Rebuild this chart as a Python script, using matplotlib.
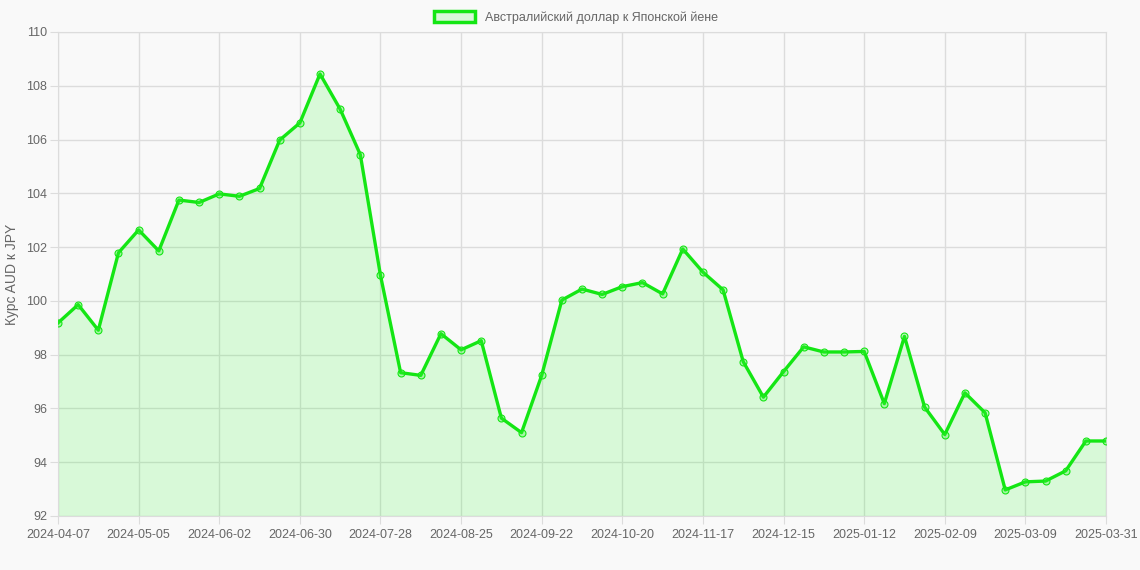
import matplotlib
matplotlib.use('Agg')
import matplotlib.pyplot as plt
from matplotlib.patches import Patch

# недельные даты (последняя точка - 2025-03-31)
dates = ['2024-04-07', '2024-04-14', '2024-04-21', '2024-04-28', '2024-05-05',
         '2024-05-12', '2024-05-19', '2024-05-26', '2024-06-02', '2024-06-09',
         '2024-06-16', '2024-06-23', '2024-06-30', '2024-07-07', '2024-07-14',
         '2024-07-21', '2024-07-28', '2024-08-04', '2024-08-11', '2024-08-18',
         '2024-08-25', '2024-09-01', '2024-09-08', '2024-09-15', '2024-09-22',
         '2024-09-29', '2024-10-06', '2024-10-13', '2024-10-20', '2024-10-27',
         '2024-11-03', '2024-11-10', '2024-11-17', '2024-11-24', '2024-12-01',
         '2024-12-08', '2024-12-15', '2024-12-22', '2024-12-29', '2025-01-05',
         '2025-01-12', '2025-01-19', '2025-01-26', '2025-02-02', '2025-02-09',
         '2025-02-16', '2025-02-23', '2025-03-02', '2025-03-09', '2025-03-16',
         '2025-03-23', '2025-03-30', '2025-03-31']

rates = [99.18, 99.86, 98.91, 101.79, 102.64, 101.86, 103.75, 103.66, 103.98, 103.89,
         104.18, 105.98, 106.62, 108.44, 107.13, 105.44, 100.95, 97.33, 97.23, 98.78,
         98.18, 98.52, 95.64, 95.10, 97.23, 100.03, 100.44, 100.24, 100.53, 100.68,
         100.26, 101.93, 101.07, 100.41, 97.74, 96.42, 97.37, 98.29, 98.10, 98.10,
         98.12, 96.18, 98.68, 96.05, 95.03, 96.58, 95.84, 92.97, 93.27, 93.30,
         93.68, 94.79, 94.79]

tick_idx = [0, 4, 8, 12, 16, 20, 24, 28, 32, 36, 40, 44, 48, 52]
yticks = [92, 94, 96, 98, 100, 102, 104, 106, 108, 110]

label = 'Австралийский доллар к Японской йене'
green = '#14e614'
bg = '#f9f9f9'
txt = '#666666'

plt.rcParams['font.family'] = ['Liberation Sans', 'DejaVu Sans']

fig = plt.figure(figsize=(11.4, 5.7), dpi=100, facecolor=bg)
ax = fig.add_axes([58 / 1140, 1 - 516 / 570, (1106 - 58) / 1140, (516 - 32) / 570])
ax.set_facecolor(bg)

x = list(range(len(dates)))
ax.fill_between(x, rates, 92, color=(0, 1, 0), alpha=0.13, linewidth=0, zorder=2)
ax.plot(x, rates, color=green, linewidth=2.4, zorder=3,
        marker='o', markersize=5, markerfacecolor=(0.2, 0.95, 0.2, 0.3),
        markeredgecolor=green, markeredgewidth=0.8)

ax.set_xlim(0, len(dates) - 1)
ax.set_ylim(92, 110)
ax.set_xticks(tick_idx)
ax.set_xticklabels([dates[i] for i in tick_idx])
ax.set_yticks(yticks)

ax.grid(True, color='#dcdcdc', linewidth=1, zorder=0)
ax.set_axisbelow(True)
for s in ax.spines.values():
    s.set_color('#dcdcdc')
ax.tick_params(axis='both', colors='#dcdcdc', labelcolor=txt, labelsize=9, length=6)
ax.tick_params(axis='y', pad=2)
ax.tick_params(axis='x', pad=3)

# подпись оси Y - фиксированное место у левого края
fig.text(12 / 1140, 1 - 274 / 570, 'Курс AUD к JPY', rotation=90, color=txt,
         fontsize=10, ha='center', va='center')

leg = fig.legend(handles=[Patch(facecolor=(0.85, 0.97, 0.85), edgecolor=green, linewidth=2.5, label=label)],
                 loc='upper center', bbox_to_anchor=(0.505, 1.0), frameon=False,
                 fontsize=9, handlelength=3.3, handleheight=0.9, labelcolor=txt)

fig.savefig('out.png', dpi=100, facecolor=bg)
